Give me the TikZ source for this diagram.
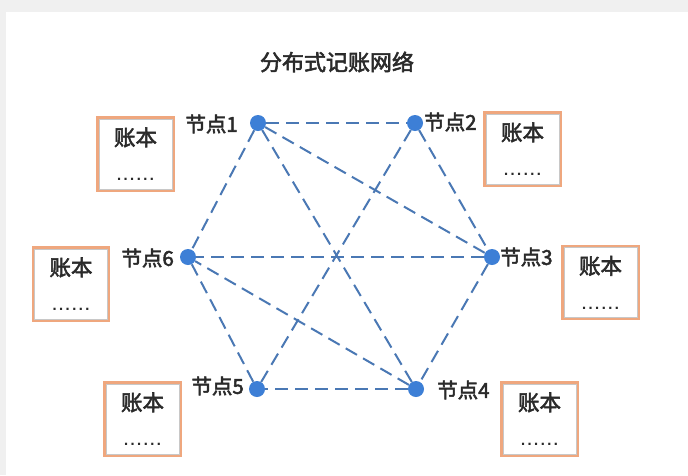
\documentclass[tikz,border=0pt]{standalone}
\usepackage{fontspec}
\setmainfont{Noto Sans CJK SC}
\newfontfamily\cjkmid[FakeBold=2.5]{Noto Sans CJK SC}
\newfontfamily\dotfont{DejaVu Sans}
\definecolor{bggray}{HTML}{F0F0F0}
\definecolor{nodeblue}{HTML}{3D7FD6}
\definecolor{edgeblue}{HTML}{4A78B4}
\definecolor{ledgerorange}{HTML}{EFA77E}
\definecolor{ledgergray}{HTML}{C8C8C8}
\definecolor{txt}{HTML}{2A2A2A}
\tikzset{
  peer/.style={circle, fill=nodeblue, inner sep=0pt, minimum size=16pt},
  link/.style={draw=edgeblue, line width=2pt, dash pattern=on 13pt off 7pt},
  ledger/.style={draw=ledgerorange, line width=2.2pt, fill=white, minimum width=76pt, minimum height=73pt, inner sep=0pt},
  ledgerin/.style={draw=ledgergray, line width=0.5pt},
  lbl/.style={text=txt, inner sep=0pt, font=\cjkmid\fontsize{20.5}{20.5}\selectfont},
  booktxt/.style={text=txt, inner sep=0pt, font=\cjkmid\fontsize{21.5}{21.5}\selectfont},
  dots/.style={text=txt, inner sep=0pt, font=\dotfont\bfseries\fontsize{12}{12}\selectfont},
}
\begin{document}
\begin{tikzpicture}[x=1pt,y=-1pt]
\useasboundingbox (0,0) rectangle (688,475);
\fill[bggray] (0,0) rectangle (688,475);
\fill[white] (6,12) rectangle (688,475);

\node[text=txt, inner sep=0pt, font=\cjkmid\fontsize{22}{22}\selectfont] (title) at (337,62) {分布式记账网络};

% ledgers
\foreach \n/\x/\y in {b1/135.5/154, b2/522.5/149, b3/600.5/282.5, b4/539.5/419, b5/142.5/419, b6/71/284}{
  \node[ledger] (\n) at (\x,\y) {};
  \draw[ledgerin] ([shift={(2.6pt,-2.6pt)}]\n.north west) rectangle ([shift={(-2.6pt,2.6pt)}]\n.south east);
  \node[booktxt] (\n t) at ([yshift=-21pt]\n.north) {账本};
  \node[dots] (\n d) at ([yshift=-63pt]\n.north) {.\kern2pt.\kern2pt.\kern2pt.\kern2pt.\kern2pt.};
}

% peers
\node[peer] (n1) at (258,123) {};
\node[peer] (n2) at (415,123) {};
\node[peer] (n3) at (492,257) {};
\node[peer] (n4) at (416,389) {};
\node[peer] (n5) at (257,389) {};
\node[peer] (n6) at (188,257) {};

\node[lbl, anchor=east] (l1) at (238,124) {节点1};
\node[lbl, anchor=west] (l2) at (424,122) {节点2};
\node[lbl, anchor=west] (l3) at (500,257) {节点3};
\node[lbl, anchor=west] (l4) at (437,390) {节点4};
\node[lbl, anchor=east] (l5) at (244,386) {节点5};
\node[lbl, anchor=east] (l6) at (174,258) {节点6};

% links
\draw[link] (n1) -- (n2);
\draw[link] (n1) -- (n3);
\draw[link] (n1) -- (n4);
\draw[link] (n1) -- (n6);
\draw[link] (n2) -- (n3);
\draw[link] (n2) -- (n5);
\draw[link] (n3) -- (n6);
\draw[link] (n3) -- (n4);
\draw[link] (n4) -- (n6);
\draw[link] (n4) -- (n5);
\draw[link] (n5) -- (n6);
\end{tikzpicture}
\end{document}
